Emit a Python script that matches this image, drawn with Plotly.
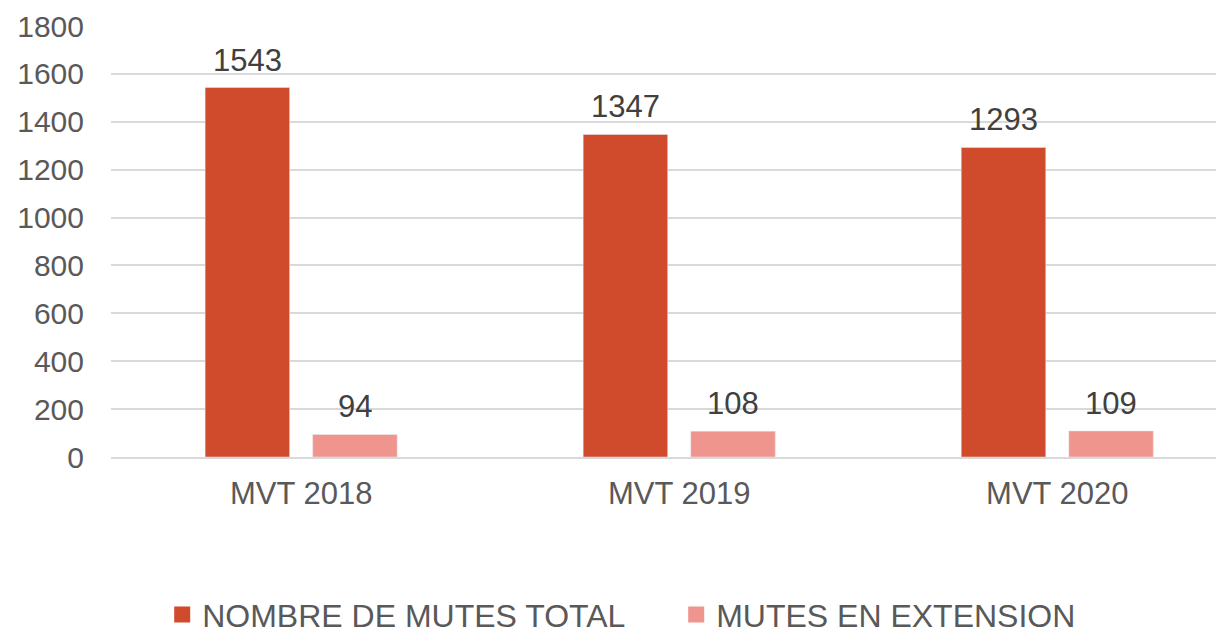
import plotly.graph_objects as go

categories = ["MVT 2018", "MVT 2019", "MVT 2020"]
total = [1543, 1347, 1293]
extension = [94, 108, 109]
series_names = ["NOMBRE DE MUTES TOTAL", "MUTES EN EXTENSION"]
y_ticks = [0, 200, 400, 600, 800, 1000, 1200, 1400, 1600, 1800]

colors = ["#D04A2C", "#EF958D"]

fig = go.Figure()
fig.add_trace(go.Bar(x=categories, y=total, name=series_names[0], marker_color=colors[0],
                     showlegend=False, legendgroup="a"))
fig.add_trace(go.Bar(x=categories, y=extension, name=series_names[1], marker_color=colors[1],
                     showlegend=False, legendgroup="b"))
# legend entries with larger square keys
for name, col, grp in zip(series_names, colors, ["a", "b"]):
    fig.add_trace(go.Scatter(x=[None], y=[None], mode="markers", name=name, legendgroup=grp,
                             marker=dict(symbol="square", size=16, color=col)))

# value labels above bars (offset to the grouped bar positions)
slot_px = 53.75
for vals, shift in ((total, -slot_px), (extension, slot_px)):
    for c, v in zip(categories, vals):
        fig.add_annotation(x=c, y=v, text=str(v), showarrow=False,
                           xshift=shift, yanchor="bottom", yshift=8,
                           font=dict(family="Liberation Sans, Arial", size=31, color="#404040"))

fig.update_layout(
    width=1216, height=626,
    margin=dict(l=103, r=0, t=18, b=177, autoexpand=False),
    paper_bgcolor="white", plot_bgcolor="white",
    barmode="group", bargap=0.431, bargroupgap=0.214,
    font=dict(family="Liberation Sans, Arial", size=30, color="#595959"),
    yaxis=dict(range=[0, 1800], tickvals=y_ticks, showgrid=True,
               gridcolor="#D9D9D9", gridwidth=1.5, zeroline=False,
               showline=False, ticks="", ticklabelstandoff=26,
               tickfont=dict(size=30, color="#595959")),
    xaxis=dict(range=[-0.503, 2.441], showline=True, linecolor="#D9D9D9", linewidth=1.5,
               ticks="", tickfont=dict(size=31, color="#595959"),
               ticklabelstandoff=8),
    legend=dict(orientation="h", x=0.046, xanchor="left", y=-0.366, yanchor="middle",
                font=dict(family="Liberation Sans Narrow, Arial Narrow, Liberation Sans", size=32, color="#595959"),
                entrywidth=469, itemwidth=30, itemsizing="trace"),
)

fig.write_html("out.html")
